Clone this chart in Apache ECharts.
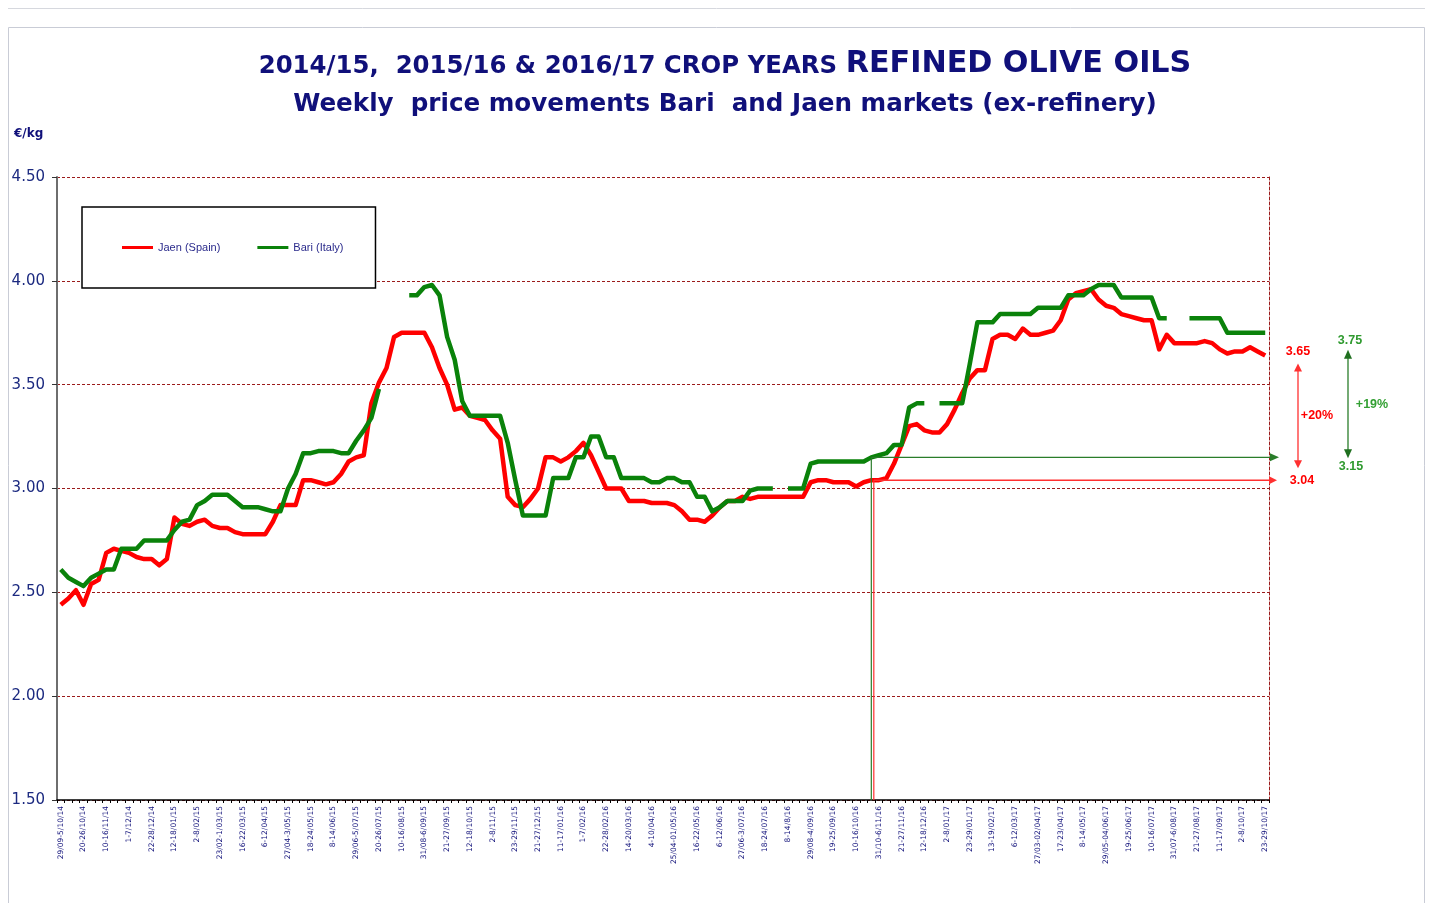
<!DOCTYPE html>
<html><head><meta charset="utf-8">
<script src="https://cdn.jsdelivr.net/npm/echarts@6/dist/echarts.min.js"></script>
<style>html,body{margin:0;padding:0;background:#fff}#c{width:1431px;height:903px}</style>
</head><body><div id="c"></div>
<script>
// ---- tick labels (every 3rd week) ----
const weekTicks = ['29/09-5/10/14','20-26/10/14','10-16/11/14','1-7/12/14','22-28/12/14','12-18/01/15','2-8/02/15','23/02-1/03/15','16-22/03/15','6-12/04/15','27/04-3/05/15','18-24/05/15','8-14/06/15','29/06-5/07/15','20-26/07/15','10-16/08/15','31/08-6/09/15','21-27/09/15','12-18/10/15','2-8/11/15','23-29/11/15','21-27/12/15','11-17/01/16','1-7/02/16','22-28/02/16','14-20/03/16','4-10/04/16','25/04-01/05/16','16-22/05/16','6-12/06/16','27/06-3/07/16','18-24/07/16','8-14/8/16','29/08-4/09/16','19-25/09/16','10-16/10/16','31/10-6/11/16','21-27/11/16','12-18/12/16','2-8/01/17','23-29/01/17','13-19/02/17','6-12/03/17','27/03-02/04/17','17-23/04/17','8-14/05/17','29/05-04/06/17','19-25/06/17','10-16/07/17','31/07-6/08/17','21-27/08/17','11-17/09/17','2-8/10/17','23-29/10/17'];
const weeksPerTick = 3;

// ---- series values (EUR/kg) ----
const jaen = [
2.44,2.47,2.51,2.44,2.54,2.56,2.69,2.71,2.70,2.69,
2.67,2.66,2.66,2.63,2.66,2.86,2.83,2.82,2.84,2.85,
2.82,2.81,2.81,2.79,2.78,2.78,2.78,2.78,2.84,2.92,
2.92,2.92,3.04,3.04,3.03,3.02,3.03,3.07,3.13,3.15,
3.16,3.41,3.51,3.58,3.73,3.75,3.75,3.75,3.75,3.68,
3.58,3.50,3.38,3.39,3.35,3.34,3.33,3.28,3.24,2.96,
2.92,2.91,2.95,3.00,3.15,3.15,3.13,3.15,3.18,3.22,
3.16,3.08,3.00,3.00,3.00,2.94,2.94,2.94,2.93,2.93,
2.93,2.92,2.89,2.85,2.85,2.84,2.87,2.91,2.94,2.94,
2.96,2.95,2.96,2.96,2.96,2.96,2.96,2.96,2.96,3.03,
3.04,3.04,3.03,3.03,3.03,3.01,3.03,3.04,3.04,3.05,
3.12,3.21,3.30,3.31,3.28,3.27,3.27,3.31,3.38,3.46,
3.53,3.57,3.57,3.72,3.74,3.74,3.72,3.77,3.74,3.74,
3.75,3.76,3.81,3.91,3.94,3.95,3.96,3.91,3.88,3.87,
3.84,3.83,3.82,3.81,3.81,3.67,3.74,3.70,3.70,3.70,
3.70,3.71,3.70,3.67,3.65,3.66,3.66,3.68,3.66,3.64];
const bari = [
2.61,2.57,2.55,2.53,2.57,2.59,2.61,2.61,2.71,2.71,
2.71,2.75,2.75,2.75,2.75,2.80,2.84,2.85,2.92,2.94,
2.97,2.97,2.97,2.94,2.91,2.91,2.91,2.90,2.89,2.89,
3.00,3.07,3.17,3.17,3.18,3.18,3.18,3.17,3.17,3.23,
3.28,3.34,3.48,null,null,null,3.93,3.93,3.97,3.98,
3.93,3.73,3.62,3.42,3.35,3.35,3.35,3.35,3.35,3.22,
3.04,2.87,2.87,2.87,2.87,3.05,3.05,3.05,3.15,3.15,
3.25,3.25,3.15,3.15,3.05,3.05,3.05,3.05,3.03,3.03,
3.05,3.05,3.03,3.03,2.96,2.96,2.89,2.91,2.94,2.94,
2.94,2.99,3.00,3.00,3.00,null,3.00,3.00,3.00,3.12,
3.13,3.13,3.13,3.13,3.13,3.13,3.13,3.15,3.16,3.17,
3.21,3.21,3.39,3.41,3.41,null,3.41,3.41,3.41,3.41,
3.60,3.80,3.80,3.80,3.84,3.84,3.84,3.84,3.84,3.87,
3.87,3.87,3.87,3.93,3.93,3.93,3.96,3.98,3.98,3.98,
3.92,3.92,3.92,3.92,3.92,3.82,3.82,null,null,3.82,
3.82,3.82,3.82,3.82,3.75,3.75,3.75,3.75,3.75,3.75];

const seriesNames = ['Jaen (Spain)', 'Bari (Italy)'];
const yMin = 1.5, yMax = 4.5, yStep = 0.5;

// ---- annotation values ----
const cropYearStartIndex = 107;
const jaenRef = 3.04, jaenLast = 3.65, jaenPct = '+20%';
const bariRef = 3.15, bariLast = 3.75, bariPct = '+19%';

const categories = jaen.map((_, i) => (i % weeksPerTick === 0 ? weekTicks[i / weeksPerTick] : ''));

const NAVY = '#10107a';
const RED = '#ff0000';
const GREEN = '#0a820a';
const GRIDRED = '#9b1b1b';

const chart = echarts.init(document.getElementById('c'), null, {renderer: 'canvas'});
const option = {
  animation: false,
  backgroundColor: '#fff',
  title: [
    {
      text: '{a|2014/15,  2015/16 & 2016/17 CROP YEARS }{b|REFINED OLIVE OILS}',
      left: 720, top: 42, textAlign: 'center',
      textStyle: {
        rich: {
          a: {fontFamily: 'DejaVu Sans', fontWeight: 'bold', fontSize: 24.4, color: NAVY, verticalAlign: 'bottom', lineHeight: 32},
          b: {fontFamily: 'DejaVu Sans', fontWeight: 'bold', fontSize: 30.2, color: NAVY, verticalAlign: 'bottom', lineHeight: 32}
        }
      }
    },
    {
      text: 'Weekly  price movements Bari  and Jaen markets (ex-refinery)',
      left: 720, top: 87, textAlign: 'center',
      textStyle: {fontFamily: 'DejaVu Sans', fontWeight: 'bold', fontSize: 24.6, color: NAVY}
    },
    {
      text: '€/kg', left: 9, top: 123,
      textStyle: {fontFamily: 'DejaVu Sans', fontWeight: 'bold', fontSize: 12, color: NAVY}
    }
  ],
  legend: {
    data: seriesNames,
    left: 82, top: 207,
    orient: 'horizontal',
    padding: [35, 32, 35, 40],
    itemGap: 37,
    itemWidth: 31, itemHeight: 3,
    icon: 'rect',
    backgroundColor: '#fff',
    borderColor: '#000', borderWidth: 1.5, borderRadius: 0,
    textStyle: {fontFamily: 'Liberation Sans', fontSize: 11, color: '#2b2b8c'}
  },
  grid: {left: 57, right: 162, top: 177, bottom: 103, containLabel: false},
  xAxis: {
    type: 'category',
    data: categories,
    boundaryGap: true,
    axisLine: {lineStyle: {color: '#000', width: 1.5}},
    axisTick: {show: true, interval: 0, length: 3, lineStyle: {color: '#000'}},
    axisLabel: {interval: weeksPerTick - 1, rotate: 90, margin: 6, fontFamily: 'DejaVu Sans', fontSize: 7.5, color: NAVY},
    splitLine: {show: false}
  },
  yAxis: [
    {
      type: 'value', min: yMin, max: yMax, interval: yStep,
      axisLine: {show: true, lineStyle: {color: '#6e6e6e', width: 2}},
      axisTick: {show: true, length: 5, lineStyle: {color: '#333'}},
      axisLabel: {margin: 12, fontFamily: 'DejaVu Sans', fontSize: 15, color: '#1c2a80', formatter: v => v.toFixed(2)},
      splitLine: {show: true, lineStyle: {color: GRIDRED, type: [3, 2], width: 1}}
    },
    {
      type: 'value', min: yMin, max: yMax, interval: yStep, position: 'right',
      axisLine: {show: true, lineStyle: {color: GRIDRED, type: [3, 2], width: 1}},
      axisTick: {show: false}, axisLabel: {show: false}, splitLine: {show: false}
    }
  ],
  series: [
    {name: seriesNames[0], type: 'line', data: jaen, symbol: 'none', connectNulls: false,
     lineStyle: {color: RED, width: 4.5, join: 'round'}, itemStyle: {color: RED}, z: 3},
    {name: seriesNames[1], type: 'line', data: bari, symbol: 'none', connectNulls: false,
     lineStyle: {color: GREEN, width: 4.5, join: 'round'}, itemStyle: {color: GREEN}, z: 4}
  ]
};
chart.setOption(option);

function drawAnnotations() {
  const toPx = (i, v) => chart.convertToPixel({xAxisIndex: 0, yAxisIndex: 0}, [i, v]);
  const band = toPx(1, 3)[0] - toPx(0, 3)[0];
  const xMark = toPx(cropYearStartIndex, 3)[0];
  const xRight = toPx(jaen.length - 1, 3)[0] + band / 2;
  const yBottom = toPx(0, yMin)[1];
  const yJ0 = toPx(0, jaenRef)[1], yJ1 = toPx(0, jaenLast)[1];
  const yB0 = toPx(0, bariRef)[1], yB1 = toPx(0, bariLast)[1];
  const redL = '#ff3030', greenL = '#2a7d2a';
  const g = [];
  const line = (x1, y1, x2, y2, c, w) => g.push({type: 'line', shape: {x1, y1, x2, y2}, style: {stroke: c, lineWidth: w}, z: 10, silent: true});
  const tri = (pts, c) => g.push({type: 'polygon', shape: {points: pts}, style: {fill: c}, z: 10, silent: true});
  const txt = (x, y, t, c) => g.push({type: 'text', x, y, style: {text: t, fill: c, font: 'bold 12.5px "Liberation Sans"', textAlign: 'center', textVerticalAlign: 'middle'}, z: 10, silent: true});

  // crop year marker verticals
  line(xMark, yB0, xMark, yBottom, greenL, 1.2);
  line(xMark + 2.5, yJ0, xMark + 2.5, yBottom, redL, 1.2);
  // horizontal reference arrows
  line(xMark, yB0, xRight + 2, yB0, greenL, 1.2);
  tri([[xRight + 1, yB0 - 4], [xRight + 10, yB0], [xRight + 1, yB0 + 4]], greenL);
  line(xMark + 2.5, yJ0, xRight + 1, yJ0, redL, 1.5);
  tri([[xRight, yJ0 - 4], [xRight + 8, yJ0], [xRight, yJ0 + 4]], redL);

  // Jaen change arrow
  const xr = xRight + 29, rTop = yJ1 + 10, rBot = yJ0 - 12;
  line(xr, rTop + 6, xr, rBot - 6, redL, 1.3);
  tri([[xr - 4, rTop + 8], [xr, rTop], [xr + 4, rTop + 8]], redL);
  tri([[xr - 4, rBot - 8], [xr, rBot], [xr + 4, rBot - 8]], redL);
  txt(xr, yJ1 - 1.5, jaenLast.toFixed(2), RED);
  txt(xr + 4, yJ0, jaenRef.toFixed(2), RED);
  txt(xr + 19, (rTop + rBot) / 2, jaenPct, RED);

  // Bari change arrow
  const xg = xRight + 79, gTop = yB1 + 17, gBot = yB0 + 1;
  line(xg, gTop + 6, xg, gBot - 6, greenL, 1.3);
  tri([[xg - 4, gTop + 9], [xg, gTop], [xg + 4, gTop + 9]], '#1f6f1f');
  tri([[xg - 4, gBot - 9], [xg, gBot], [xg + 4, gBot - 9]], '#1f6f1f');
  txt(xg + 2, yB1 + 8, bariLast.toFixed(2), '#2f9a2f');
  txt(xg + 3, yB0 + 9.5, bariRef.toFixed(2), '#2f9a2f');
  txt(xg + 24, (gTop + gBot) / 2, bariPct, '#33a033');

  // page frame
  g.push({type: 'rect', shape: {x: 8.5, y: 27.5, width: 1416, height: 880}, style: {fill: 'none', stroke: '#c9ccd6', lineWidth: 1}, z: 0, silent: true});
  g.push({type: 'line', shape: {x1: 8, y1: 8.5, x2: 1425, y2: 8.5}, style: {stroke: '#d6d8de', lineWidth: 1}, z: 0, silent: true});

  chart.setOption({graphic: g});
}
drawAnnotations();
</script>
</body></html>
